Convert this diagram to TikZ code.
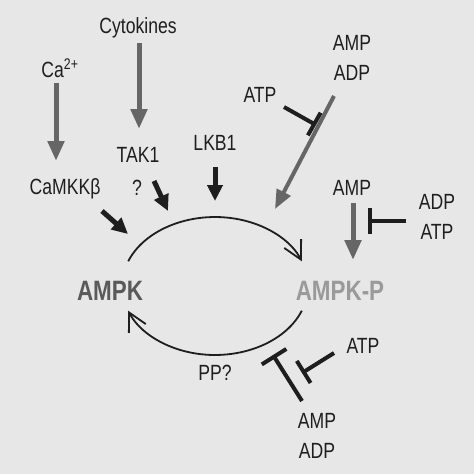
\documentclass[tikz,border=0pt]{standalone}
\usepackage{fontspec}
\setmainfont{Liberation Sans}[FakeStretch=0.8]
\usetikzlibrary{arrows.meta}
\definecolor{bg}{HTML}{E7E7E7}
\definecolor{grayarrow}{HTML}{666666}
\definecolor{ink}{HTML}{1E1E1E}
\definecolor{ampk}{HTML}{5A5A5A}
\definecolor{ampkp}{HTML}{9A9A9A}
\begin{document}
\begin{tikzpicture}[x=1pt,y=1pt,
  lbl/.style={anchor=base,inner sep=0pt,text=ink,font=\fontsize{22}{24}\selectfont},
  big/.style={anchor=base,inner sep=0pt,font=\fontsize{28}{30}\selectfont\bfseries},
  grayarr/.style={draw=grayarrow,line width=5pt,-{Triangle[length=20pt,width=16pt]}},
  grayarrthin/.style={draw=grayarrow,line width=4pt,-{Triangle[length=19pt,width=15pt]}},
  blackarr/.style={draw=ink,line width=5pt,-{Triangle[length=16pt,width=15pt]}},
  inhib/.style={draw=ink,line width=4pt,-{Bar[width=26pt]}},
  cyc/.style={draw=ink,line width=1.8pt,-{Straight Barb[length=18pt,width=19pt,line width=1.8pt]}}
]
\path[use as bounding box,fill=bg] (0,0) rectangle (474,-474);

% labels
\node[lbl] (cyto) at (138,-33) {Cytokines};
\node[lbl] (ca) at (60,-77) {Ca\textsuperscript{2+}};
\node[lbl] (tak) at (138,-162) {TAK1};
\node[lbl] (q) at (137,-195) {?};
\node[lbl] (camkk) at (65,-194) {CaMKKβ};
\node[lbl] (lkb) at (215,-150) {LKB1};
\node[lbl] (amp1) at (352,-50) {AMP};
\node[lbl] (adp1) at (352,-80) {ADP};
\node[lbl] (atp1) at (260,-102) {ATP};
\node[lbl] (amp2) at (352,-195) {AMP};
\node[lbl] (adp2) at (437,-209) {ADP};
\node[lbl] (atp2) at (437,-239) {ATP};
\node[lbl] (atp3) at (363,-353) {ATP};
\node[lbl] (amp3) at (317,-428) {AMP};
\node[lbl] (adp3) at (317,-458) {ADP};
\node[lbl] (pp) at (215,-380) {PP?};
\node[big,text=ampk] (ampk) at (110,-300) {AMPK};
\node[big,text=ampkp] (ampkp) at (340,-300) {AMPK-P};

% arrow end points
\coordinate (caS) at (56,-83);   \coordinate (caE) at (56,-161);
\coordinate (cyS) at (139,-43);  \coordinate (cyE) at (139,-129);
\coordinate (lkS) at (215,-167); \coordinate (lkE) at (215,-201);
\coordinate (tkS) at (154,-181); \coordinate (tkE) at (168,-211);
\coordinate (cmS) at (102,-211); \coordinate (cmE) at (128,-234);
\coordinate (adS) at (334,-96);  \coordinate (adE) at (275,-209);
\coordinate (amS) at (353,-203); \coordinate (amE) at (353,-260);
\coordinate (i1S) at (284,-107); \coordinate (i1E) at (316,-125);
\coordinate (i2S) at (406,-221); \coordinate (i2E) at (368,-221);
\coordinate (i3S) at (334,-353); \coordinate (i3E) at (302,-373);
\coordinate (i4S) at (302,-401); \coordinate (i4E) at (273,-355);
\coordinate (upS) at (128.2,-261.3);
\coordinate (loS) at (301.8,-310.7);

\draw[grayarr] (caS) -- (caE);
\draw[grayarr] (cyS) -- (cyE);
\draw[blackarr] (lkS) -- (lkE);
\draw[blackarr] (tkS) -- (tkE);
\draw[blackarr] (cmS) -- (cmE);
\draw[grayarrthin] (adS) -- (adE);
\draw[grayarr] (amS) -- (amE);
\draw[inhib] (i1S) -- (i1E);
\draw[inhib] (i2S) -- (i2E);
\draw[inhib] (i3S) -- (i3E);
\draw[inhib,-{Bar[width=29pt]}] (i4S) -- (i4E);

\draw[cyc] (upS) arc[start angle=159,end angle=21,x radius=93,y radius=69];
\draw[cyc] (loS) arc[start angle=-21,end angle=-159,x radius=93,y radius=69];
\end{tikzpicture}
\end{document}
